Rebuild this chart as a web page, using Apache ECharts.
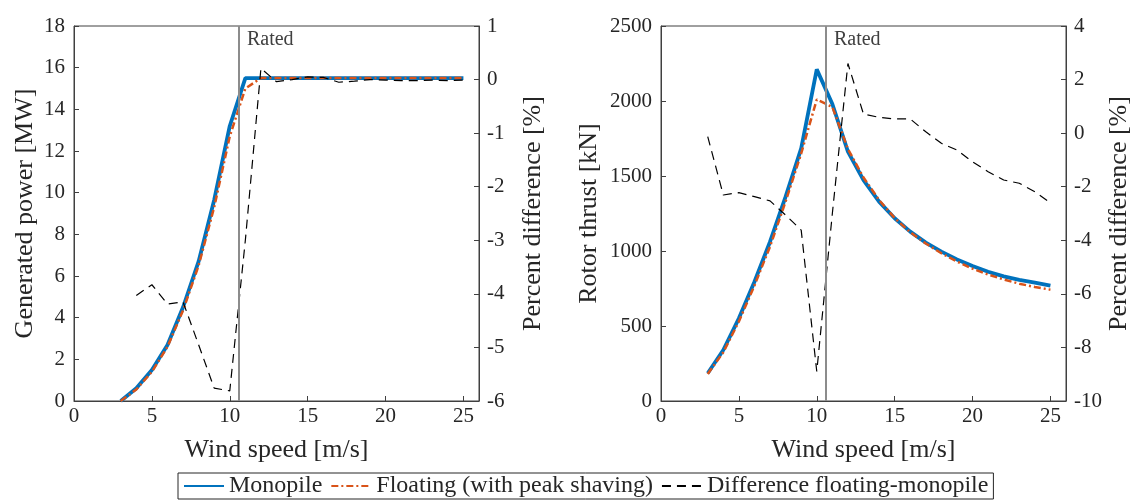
<!DOCTYPE html>
<html>
<head>
<meta charset="utf-8">
<script src="https://cdn.jsdelivr.net/npm/echarts@6/dist/echarts.min.js"></script>
<style>
  html, body { margin: 0; padding: 0; background: #fff; }
  #main { width: 1135px; height: 500px; }
</style>
</head>
<body>
<div id="main"></div>
<script>
// wind speed bins [m/s]
const windSpeed = [3, 4, 5, 6, 7, 8, 9, 10, 11, 12, 13, 14, 15, 16, 17, 18, 19, 20, 21, 22, 23, 24, 25]
const ratedSpeed = 10.59

// generated power [MW]
const powerMonopile = [0, 0.61, 1.49, 2.69, 4.5, 6.7, 9.65, 13.2, 15.5, 15.5, 15.5, 15.5, 15.5, 15.5, 15.5, 15.5, 15.5, 15.5, 15.5, 15.5, 15.5, 15.5, 15.5]
const powerFloating = [0, 0.55, 1.4, 2.6, 4.35, 6.5, 9.3, 12.7, 15.0, 15.5, 15.5, 15.5, 15.5, 15.5, 15.5, 15.5, 15.5, 15.5, 15.5, 15.5, 15.5, 15.5, 15.5]
const powerDiff = ['-', -4.03, -3.83, -4.19, -4.15, -4.95, -5.76, -5.81, -3.0, 0.21, -0.04, 0.0, 0.05, 0.04, -0.05, -0.03, 0.0, -0.01, -0.02, -0.02, -0.01, -0.02, -0.01]

// rotor thrust [kN]
const thrustMonopile = [185, 340, 551, 795, 1062, 1362, 1684, 2211, 1980, 1662, 1473, 1329, 1218, 1129, 1056, 996, 944, 900, 862, 831, 807, 789, 769]
const thrustFloating = [180, 325, 530, 770, 1030, 1330, 1650, 2010, 1960, 1680, 1490, 1340, 1220, 1125, 1050, 985, 930, 882, 843, 810, 782, 760, 742]
const thrustDiff = [-0.13, -2.31, -2.22, -2.37, -2.53, -3.06, -3.62, -8.9, -3.0, 2.6, 0.71, 0.59, 0.53, 0.53, 0.05, -0.38, -0.63, -1.07, -1.44, -1.75, -1.87, -2.19, -2.6]

const FONT = 'Liberation Serif'
const AXIS_COL = '#404040'
const TXT_COL = '#262626'

const pair = (ys) => windSpeed.map((x, i) => [x, ys[i]])

function xAx(gridIndex) {
    return {
        type: 'value',
        gridIndex,
        min: 0,
        max: 26,
        interval: 5,
        name: 'Wind speed [m/s]',
        nameLocation: 'middle',
        nameGap: 36,
        nameTextStyle: { fontFamily: FONT, fontSize: 26, color: TXT_COL },
        axisLine: { lineStyle: { color: AXIS_COL, width: 1 } },
        axisTick: { inside: true, length: 5, lineStyle: { color: AXIS_COL } },
        axisLabel: { fontFamily: FONT, fontSize: 21, color: TXT_COL, margin: 5, showMaxLabel: false },
        splitLine: { show: false }
    }
}

function yAx(gridIndex, position, min, max, interval, name, nameGap) {
    return {
        type: 'value',
        gridIndex,
        position,
        min,
        max,
        interval,
        name,
        nameLocation: 'middle',
        nameGap,
        nameRotate: 90,
        nameTextStyle: { fontFamily: FONT, fontSize: 26, color: TXT_COL },
        axisLine: { show: true, lineStyle: { color: AXIS_COL, width: 1 } },
        axisTick: { show: true, inside: true, length: 5, lineStyle: { color: AXIS_COL } },
        axisLabel: {
            fontFamily: FONT, fontSize: 21, color: TXT_COL,
            margin: position === 'left' ? 9 : 8,
            formatter: (v) => String(v)
        },
        splitLine: { show: false }
    }
}

function ratedMarks(ymax) {
    return {
        markLine: {
            silent: true,
            symbol: ['none', 'none'],
            label: { show: false },
            lineStyle: { color: '#8c8c8c', width: 2, type: 'solid' },
            data: [{ xAxis: ratedSpeed }]
        },
        markPoint: {
            silent: true,
            symbol: 'circle',
            symbolSize: 0,
            data: [{ coord: [ratedSpeed, ymax] }],
            label: {
                show: true,
                formatter: 'Rated',
                position: [8, 4],
                align: 'left',
                verticalAlign: 'top',
                fontFamily: FONT,
                fontSize: 20,
                color: '#404040'
            }
        }
    }
}

function lines(gi, mono, flo, diff, ymax) {
    const xi = gi, yl = gi * 2, yr = gi * 2 + 1
    return [
        Object.assign({
            name: 'Monopile',
            type: 'line',
            xAxisIndex: xi,
            yAxisIndex: yl,
            data: pair(mono),
            symbol: 'none',
            lineStyle: { color: '#0072BD', width: 3.8 },
            itemStyle: { color: '#0072BD' },
            z: 2
        }, ratedMarks(ymax)),
        {
            name: 'Floating (with peak shaving)',
            type: 'line',
            xAxisIndex: xi,
            yAxisIndex: yl,
            data: pair(flo),
            symbol: 'none',
            lineStyle: { color: '#D95319', width: 2.5, type: [7, 3, 2, 3] },
            itemStyle: { color: '#D95319' },
            z: 3
        },
        {
            name: 'Difference floating-monopile',
            type: 'line',
            xAxisIndex: xi,
            yAxisIndex: yr,
            data: pair(diff),
            symbol: 'none',
            lineStyle: { color: '#000', width: 1.2, type: [9, 6] },
            itemStyle: { color: '#000' },
            z: 4
        }
    ]
}

const chart = echarts.init(document.getElementById('main'), null, { renderer: 'canvas' })

const option = {
    animation: false,
    backgroundColor: '#fff',
    grid: [
        { left: 74, top: 26, width: 405, height: 375, show: true, borderColor: AXIS_COL, borderWidth: 1, outerBoundsMode: 'none' },
        { left: 661, top: 26, width: 405, height: 375, show: true, borderColor: AXIS_COL, borderWidth: 1, outerBoundsMode: 'none' }
    ],
    xAxis: [xAx(0), xAx(1)],
    yAxis: [
        yAx(0, 'left', 0, 18, 2, 'Generated power [MW]', 36),
        yAx(0, 'right', -6, 1, 1, 'Percent difference [%]', 41),
        yAx(1, 'left', 0, 2500, 500, 'Rotor thrust [kN]', 59),
        yAx(1, 'right', -10, 4, 2, 'Percent difference [%]', 34)
    ],
    legend: {
        bottom: 1,
        left: 178,
        itemWidth: 40,
        itemHeight: 12,
        itemGap: 8,
        padding: [1, 5],
        borderColor: '#262626',
        borderWidth: 1,
        borderRadius: 0,
        itemStyle: { opacity: 0 },
        textStyle: { fontFamily: FONT, fontSize: 24, color: TXT_COL },
        data: ['Monopile', 'Floating (with peak shaving)', 'Difference floating-monopile']
    },
    series: [
        ...lines(0, powerMonopile, powerFloating, powerDiff, 18),
        ...lines(1, thrustMonopile, thrustFloating, thrustDiff, 2500)
    ]
}

chart.setOption(option)
</script>
</body>
</html>
